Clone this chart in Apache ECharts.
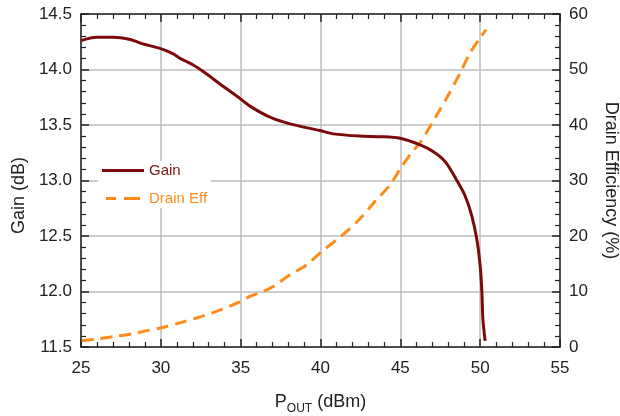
<!DOCTYPE html>
<html>
<head>
<meta charset="utf-8">
<script src="https://cdn.jsdelivr.net/npm/echarts@6/dist/echarts.min.js"></script>
<style>html,body{margin:0;padding:0;background:#fff}#c{width:620px;height:416px}</style>
</head>
<body>
<div id="c"></div>
<script>
var gainX = [25, 25.98, 27.0, 28.07, 28.9, 29.95, 30.78, 31.2, 32.03, 32.87, 33.7, 34.95, 35.58, 36.84, 38.09, 39.97, 40.8, 42.47, 43.73, 44.99, 46.24, 47.07, 47.81, 48.54, 49.06, 49.48, 49.79, 50.0, 50.11, 50.17, 50.31];
var gainY = [14.26, 14.29, 14.29, 14.27, 14.23, 14.19, 14.14, 14.10, 14.04, 13.96, 13.87, 13.74, 13.67, 13.57, 13.51, 13.45, 13.42, 13.40, 13.395, 13.38, 13.32, 13.26, 13.17, 13.0, 12.86, 12.68, 12.47, 12.23, 11.99, 11.75, 11.555];
var effX = [25.04, 25.98, 27.13, 28.17, 29.21, 30.05, 31.3, 32.56, 33.6, 34.64, 35.69, 36.41, 37.04, 38.09, 39.13, 40.07, 41.22, 42.37, 43.41, 44.35, 45.08, 45.81, 46.24, 47.18, 47.91, 48.75, 49.37, 50.0, 50.37];
var effY = [1.13, 1.44, 1.91, 2.34, 2.99, 3.48, 4.43, 5.51, 6.54, 7.75, 9.24, 10.0, 10.9, 13.0, 14.8, 17.2, 19.8, 22.8, 26.2, 29.2, 32.5, 35.4, 36.8, 41.3, 44.9, 49.4, 53.0, 55.7, 57.2];
var seriesNames = ['Gain', 'Drain Eff'];
var xTitle = 'P|OUT| (dBm)';
var yLeftTitle = 'Gain (dB)';
var yRightTitle = 'Drain Efficiency (%)';

function pairs(xs, ys) { return xs.map(function (x, i) { return [x, ys[i]]; }); }

var FONT = 'Liberation Sans, Arial, sans-serif';
var axisLine = { show: true, lineStyle: { color: '#222', width: 1.5 } };
var tick = { show: true, inside: true, length: 8, lineStyle: { color: '#222', width: 1.5 } };
var minor = { show: true, splitNumber: 5, length: 5, lineStyle: { color: '#222', width: 1.2 } };
var grid = { show: true, lineStyle: { color: '#bdbdbd', width: 1.5 } };
var lbl = { fontFamily: FONT, fontSize: 17, color: '#222' };
var xt = xTitle.split('|');

var chart = echarts.init(document.getElementById('c'), null, { renderer: 'canvas' });
chart.setOption({
  animation: false,
  backgroundColor: '#fff',
  grid: { left: 81, right: 60, top: 14, bottom: 69, containLabel: false, outerBoundsMode: 'none' },
  legend: {
    orient: 'vertical', left: 98, top: 161, itemWidth: 42, itemHeight: 3, itemGap: 13,
    backgroundColor: '#fff', padding: [2, 4, 2, 4],
    textStyle: { fontFamily: FONT, fontSize: 15 },
    data: [
      { name: seriesNames[0], icon: 'rect', textStyle: { color: '#7B1414' } },
      { name: seriesNames[1], icon: 'path://M8,0h10v3h-10z M26,0h16v3h-16z', textStyle: { color: '#FF8C1A' } }
    ]
  },
  xAxis: [{
    type: 'value', min: 25, max: 55, interval: 5, position: 'bottom',
    axisLine: axisLine, axisTick: tick, minorTick: minor, splitLine: grid,
    axisLabel: Object.assign({ margin: 13 }, lbl),
    name: '{a|' + xt[0] + '}{b|' + xt[1] + '}{a|' + xt[2] + '}',
    nameLocation: 'middle', nameGap: 46,
    nameTextStyle: {
      rich: {
        a: { fontFamily: FONT, fontSize: 18, color: '#222', verticalAlign: 'bottom', padding: [0, 0, 4, 0] },
        b: { fontFamily: FONT, fontSize: 12, color: '#222', verticalAlign: 'bottom' }
      }
    }
  }, {
    type: 'value', min: 25, max: 55, interval: 5, position: 'top',
    axisLine: axisLine, axisTick: tick, minorTick: minor, splitLine: { show: false },
    axisLabel: { show: false }
  }],
  yAxis: [{
    type: 'value', min: 11.5, max: 14.5, interval: 0.5, position: 'left',
    axisLine: axisLine, axisTick: tick, minorTick: minor, splitLine: grid,
    axisLabel: Object.assign({ margin: 9, formatter: function (v) { return v.toFixed(1); } }, lbl),
    name: yLeftTitle, nameLocation: 'middle', nameGap: 52, nameRotate: 90,
    nameTextStyle: { fontFamily: FONT, fontSize: 18, color: '#222', padding: [0, 0, 0, -30] }
  }, {
    type: 'value', min: 0, max: 60, interval: 10, position: 'right',
    axisLine: axisLine, axisTick: tick, minorTick: minor, splitLine: { show: false },
    axisLabel: Object.assign({ margin: 9 }, lbl),
    name: yRightTitle, nameLocation: 'middle', nameGap: 42, nameRotate: -90,
    nameTextStyle: { fontFamily: FONT, fontSize: 18, color: '#222' }
  }],
  series: [{
    name: seriesNames[0], type: 'line', xAxisIndex: 0, yAxisIndex: 0,
    data: pairs(gainX, gainY), showSymbol: false, symbol: 'none', smooth: 0.3,
    lineStyle: { color: '#7B0A0A', width: 3 }, itemStyle: { color: '#7B0A0A' }, z: 3
  }, {
    name: seriesNames[1], type: 'line', xAxisIndex: 0, yAxisIndex: 1,
    data: pairs(effX, effY), showSymbol: false, symbol: 'none', smooth: 0.3,
    lineStyle: { color: '#FF8C1A', width: 3, type: [12, 7] }, itemStyle: { color: '#FF8C1A' }, z: 2
  }]
});
</script>
</body>
</html>
